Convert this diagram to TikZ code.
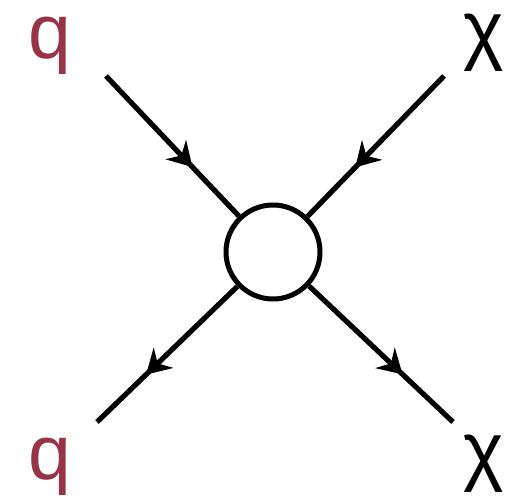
\documentclass[tikz,border=0pt]{standalone}
\usepackage{fontspec}
\setmainfont{Liberation Sans}
\usepackage{xcolor}
\usepackage{tikz}
\usetikzlibrary{arrows.meta,decorations.markings,shapes.geometric}
\definecolor{quarkx}{HTML}{983447}
\tikzset{
  fline/.style={line width=5.2pt,black,postaction={decorate},
    decoration={markings,mark=at position 0.65 with {\arrow{Stealth[length=24pt,width=28pt,inset=8pt]}}}},
  blob/.style={draw,circle,line width=5pt,minimum size=94pt,inner sep=0pt,fill=white},
  lbl/.style={font=\fontsize{77}{80}\selectfont,anchor=base,inner sep=0pt}
}
\begin{document}
\begin{tikzpicture}[x=1pt,y=-1pt]
\useasboundingbox (0,0) rectangle (513,497);
\node[blob] (v) at (273,252) {};
\coordinate (qin) at (106,76); \coordinate (xin) at (444,76);
\coordinate (qout) at (97,422); \coordinate (xout) at (453,422);
\draw[fline] (qin)--(v);
\draw[fline] (xin)--(v);
\draw[fline] (v)--(qout);
\draw[fline] (v)--(xout);
\node[lbl,text=quarkx] (qa) at (50,59) {q};
\node[lbl] (xa) at (484,56) {χ};
\node[lbl,text=quarkx] (qb) at (50,479) {q};
\node[lbl] (xb) at (484,476) {χ};
\end{tikzpicture}
\end{document}
